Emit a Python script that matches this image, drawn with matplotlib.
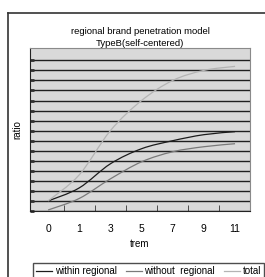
import matplotlib
matplotlib.use('Agg')
import matplotlib.pyplot as plt
from matplotlib.path import Path
from matplotlib.patches import PathPatch
from matplotlib.lines import Line2D
import numpy as np

plt.rcParams['font.family'] = ['Liberation Sans', 'DejaVu Sans']

# 数据
terms = ['0', '1', '3', '5', '7', '9', '11']
within_regional = [1.0, 2.3, 4.7, 6.2, 7.0, 7.6, 7.9]
without_regional = [0.1, 1.25, 3.2, 4.9, 5.9, 6.4, 6.7]
total = [1.0, 3.6, 8.0, 11.0, 13.0, 14.0, 14.4]

series = [('within regional', within_regional, '#1c1c1c'),
          ('without  regional', without_regional, '#7a7a7a'),
          ('total', total, '#b4b4b4')]


# 平滑曲线（类似Excel的平滑线）
def smooth_path(xs, ys):
    pts = np.column_stack([xs, ys])
    n = len(pts)
    verts = [pts[0]]
    codes = [Path.MOVETO]
    for i in range(n - 1):
        p0 = pts[max(i - 1, 0)]
        p1 = pts[i]
        p2 = pts[i + 1]
        p3 = pts[min(i + 2, n - 1)]
        c1 = p1 + (p2 - p0) / 6.0
        c2 = p2 - (p3 - p1) / 6.0
        verts += [c1, c2, p2]
        codes += [Path.CURVE4] * 3
    return Path(verts, codes)


fig = plt.figure(figsize=(2.65, 2.77), dpi=100)
ax = fig.add_axes([30 / 265, 1 - 211 / 277, 220 / 265, (211 - 48.3) / 277])
ax.set_facecolor('#d9d9d9')

x = np.arange(len(terms))
handles = []
for name, vals, col in series:
    patch = PathPatch(smooth_path(x, vals), facecolor='none', edgecolor=col, lw=0.9, zorder=3)
    ax.add_patch(patch)
    handles.append(Line2D([], [], color=col, lw=0.9, label=name))

ax.set_xlim(-0.58, 6.48)
ax.set_ylim(0, 16.2)
ax.set_yticks(np.arange(0, 16))
ax.set_yticklabels([])
ax.yaxis.grid(True, color='#202020', lw=1.0)
ax.set_axisbelow(True)
ax.set_xticks(x)
ax.set_xticklabels(terms, fontsize=7.5)
ax.set_xticks(x[:-1] + 0.5, minor=True)
ax.tick_params(axis='x', which='major', length=0, pad=9)
ax.tick_params(axis='x', which='minor', direction='in', length=4, color='#333333')
ax.tick_params(axis='y', direction='in', length=3, color='#333333', width=2)
for s in ['top', 'right']:
    ax.spines[s].set_color('#8a8a8a')
for s in ['left', 'bottom']:
    ax.spines[s].set_color('#222222')

ax.set_xlabel('trem', fontsize=7, labelpad=4)
ax.set_ylabel('ratio', fontsize=7, labelpad=2)
ax.set_title('regional brand penetration model\nTypeB(self-centered)', fontsize=6.8, pad=2, linespacing=1.35)

# 外框
fig.add_artist(Line2D([7.5 / 265, 7.5 / 265], [0, 1 - 13 / 277], color='#333333', lw=1.2))
fig.add_artist(Line2D([7.5 / 265, 1], [1 - 13 / 277, 1 - 13 / 277], color='#333333', lw=1.2))

leg = fig.legend(handles=handles, loc='upper left', bbox_to_anchor=(33 / 265, 1 - 263 / 277),
                 ncol=3, fontsize=7, frameon=True, fancybox=False, borderaxespad=0,
                 handlelength=1.7, handletextpad=0.25, columnspacing=0.9, borderpad=0.3)
leg.get_frame().set_edgecolor('#222222')
leg.get_frame().set_linewidth(1.0)

fig.savefig('out.png', dpi=100)
